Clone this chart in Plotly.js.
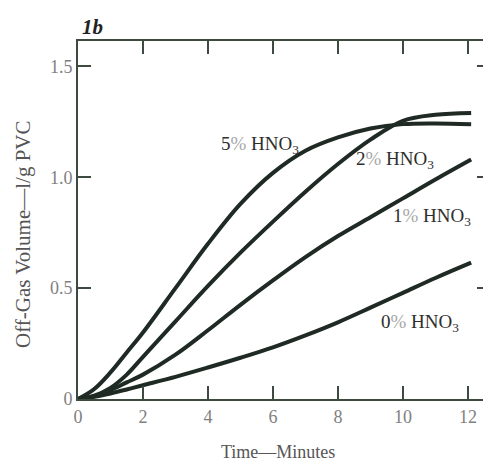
<!DOCTYPE html>
<html>
<head>
<meta charset="utf-8">
<script src="https://cdn.plot.ly/plotly-3.0.1.min.js"></script>
<style>html,body{margin:0;padding:0;background:#fff;overflow:hidden;width:483px;height:463px;}#chart{width:490px;height:463px;}</style>
</head>
<body>
<div id="chart"></div>
<script>
const time = [0, 0.5, 1, 1.5, 2, 3, 4, 5, 6, 7, 8, 9, 10, 11, 12.1];
const hno3_5 = [0, 0.045, 0.12, 0.21, 0.30, 0.50, 0.70, 0.88, 1.02, 1.12, 1.18, 1.22, 1.24, 1.243, 1.24];
const hno3_2 = [0, 0.015, 0.05, 0.11, 0.19, 0.35, 0.51, 0.66, 0.80, 0.935, 1.06, 1.17, 1.255, 1.282, 1.29];
const hno3_1 = [0, 0.012, 0.04, 0.075, 0.11, 0.20, 0.31, 0.425, 0.535, 0.64, 0.735, 0.82, 0.905, 0.99, 1.08];
const hno3_0 = [0, 0.01, 0.025, 0.043, 0.062, 0.10, 0.142, 0.186, 0.233, 0.287, 0.346, 0.412, 0.479, 0.546, 0.615];
const pct = ["5", "2", "1", "0"];
const labelX = [5.61, 9.77, 10.9, 10.53];
const labelY = [1.147, 1.079, 0.822, 0.345];
const xTicks = [0, 2, 4, 6, 8, 10, 12];
const xTickText = ["0", "2", "4", "6", "8", "10", "12"];
const yTicks = [0, 0.5, 1.0, 1.5];
const yTickText = ["0", "0.5", "1.0", "1.5"];
const xTitle = 'Time—Minutes';
const yTitle = 'Off-Gas Volume—l/g PVC';

const lineColor = '#1f2a24';
const series = [hno3_5, hno3_2, hno3_1, hno3_0];
const traces = series.map(ys => ({
  x: time, y: ys, type: 'scatter', mode: 'lines',
  line: {color: lineColor, width: 4, shape: 'spline', smoothing: 1},
  hoverinfo: 'skip', showlegend: false
}));

const serif = 'Liberation Serif, Times New Roman, serif';
const axisCommon = {
  showgrid: false, zeroline: false, showline: true, mirror: 'ticks',
  linecolor: '#3c4a40', linewidth: 2,
  ticks: 'inside', ticklen: 13, tickwidth: 2, tickcolor: '#3c4a40',
  tickfont: {family: serif, size: 18, color: '#808080'}
};

const W = 490, H = 463, ML = 78, MR = 0, MT = 41, MB = 64;
const pw = W - ML - MR, ph = H - MT - MB;
const px = v => (v - ML) / pw;
const py = v => (H - MB - v) / ph;

const annotations = pct.map((p, i) => ({
  x: labelX[i], y: labelY[i], xref: 'x', yref: 'y',
  text: p + '<span style="color:#a8a8a8">%</span> HNO<sub>3</sub>', showarrow: false,
  font: {family: serif, size: 19, color: '#2e2e2e'}
}));
annotations.push({
  x: px(80), y: py(27), xref: 'paper', yref: 'paper', text: '<b><i>1b</i></b>', showarrow: false,
  font: {family: serif, size: 21, color: '#222'}, xanchor: 'left', yanchor: 'middle'
});
annotations.push({
  x: px(278), y: py(452), xref: 'paper', yref: 'paper', text: xTitle, showarrow: false,
  font: {family: serif, size: 18, color: '#555'}, xanchor: 'center', yanchor: 'middle'
});
annotations.push({
  x: px(23), y: py(234), xref: 'paper', yref: 'paper', text: yTitle, showarrow: false,
  textangle: -90,
  font: {family: serif, size: 21, color: '#555'}, xanchor: 'center', yanchor: 'middle'
});

const layout = {
  width: W, height: H,
  margin: {l: ML, r: MR, t: MT, b: MB},
  paper_bgcolor: '#fff', plot_bgcolor: '#fff',
  xaxis: Object.assign({}, axisCommon, {
    range: [0, 12.68], tickvals: xTicks, ticktext: xTickText
  }),
  yaxis: Object.assign({}, axisCommon, {
    range: [0, 1.615], tickvals: yTicks, ticktext: yTickText
  }),
  annotations: annotations
};
Plotly.newPlot('chart', traces, layout, {staticPlot: true});
</script>
</body>
</html>
